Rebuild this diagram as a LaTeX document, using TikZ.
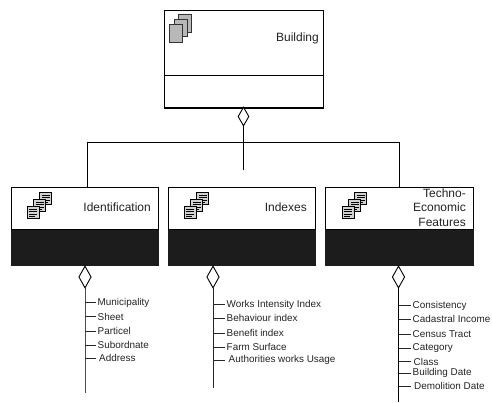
\documentclass[tikz,border=0pt]{standalone}
\usepackage{fontspec}
\setmainfont{Liberation Sans}
\usetikzlibrary{shapes.geometric}
\definecolor{boxblack}{RGB}{28,28,28}
\definecolor{txt}{RGB}{35,35,35}
\tikzset{
  x=1pt,y=-1pt,
  boxline/.style={draw=black,line width=0.9pt,fill=white},
  darkpart/.style={draw=boxblack,fill=boxblack,line width=0.5pt},
  wire/.style={draw=black,line width=0.7pt},
  tick/.style={draw=black!85,line width=0.7pt},
  dia/.style={diamond,draw=black,fill=white,line width=0.9pt,inner sep=0pt,minimum width=12.5pt,minimum height=22pt,aspect=0.55},
  item/.style={anchor=west,inner sep=0pt,font=\fontsize{9.9}{11}\selectfont,text=txt},
  title/.style={anchor=east,inner sep=0pt,font=\fontsize{12}{14}\selectfont,text=txt,align=right},
  sheet/.style={draw=black!80,fill=black!28,line width=0.6pt},
  doc/.style={draw=black,fill=black!18,line width=0.6pt},
  docline/.style={draw=black,line width=0.6pt}
}
\newcommand{\docicon}[2]{%
  \path[doc] (#1,#2) rectangle ++(12,12.5);
  \draw[docline] (#1+2,#2+3) -- ++(8,0) (#1+2,#2+5.5) -- ++(8,0) (#1+2,#2+8) -- ++(8,0) (#1+2,#2+10.5) -- ++(6,0);
}
\newcommand{\stackicon}[2]{%
  \docicon{#1+12.5}{#2}\docicon{#1+6.5}{#2+7}\docicon{#1}{#2+14}%
}
\begin{document}
\begin{tikzpicture}
\useasboundingbox (0,0) rectangle (492,403);
% connectors (tree)
\coordinate (tl) at (87,142);
\coordinate (tr) at (399.5,142);
\coordinate (tm) at (243.5,142);
\coordinate (idtop) at (87,187);
\coordinate (fetop) at (399.5,187);
\coordinate (mbot) at (243.5,170);
\draw[wire] (tl) -- (tr);
\draw[wire] (tl) -- (idtop);
\draw[wire] (tr) -- (fetop);
\draw[wire] (tm) -- (mbot);
\draw[wire,line width=1pt] (243.5,126) -- (tm);
% building
\node[boxline,minimum width=159.5pt,minimum height=97pt,inner sep=0pt,anchor=north west] (bld) at (163.5,10) {};
\coordinate (bl) at (163.5,75.5);
\coordinate (br) at (323,75.5);
\draw[line width=0.9pt] (bl) -- (br);
\draw[line width=1.4pt] (bld.south west) -- (bld.south east);
\path[sheet] (178,14.5) rectangle ++(13,17.5);
\path[sheet] (174,19) rectangle ++(13,17.5);
\path[sheet] (169.5,24.5) rectangle ++(13,17.5);
\node[title] (bldt) at (319,38) {Building};
\node[dia,minimum width=11pt,minimum height=19pt] (bd) at (243.5,116.5) {};
% three class boxes
\foreach \nm/\xa/\xb in {a/11/158.5,b/168/315.5,c/325/473.5}{
  \path[darkpart] (\xa,229) rectangle (\xb,265);
  \path[draw=black,line width=0.7pt,fill=white] (\xa,187) rectangle (\xb,229);
}
\stackicon{27}{192}
\stackicon{184}{192}
\stackicon{342}{192}
\node[title] (ida) at (151,207) {Identification};
\node[title] (idx) at (307,207) {Indexes};
\node[title,font=\fontsize{12}{14.7}\selectfont] (fe) at (466,207.5) {Techno-\\Economic\\Features};
% identification list
\coordinate (ae) at (85,393);
\draw[line width=0.9pt,draw=black!70] (85,288) -- (ae);
\node[dia] (ad) at (85,277) {};
\foreach \yy/\tt/\xx in {302.7/Municipality/97.5,316.5/Sheet/97.5,331/Particel/97.5,345/Subordnate/97.5,358/Address/99}{
  \node[item] (n\yy) at (\xx,\yy) {\tt};
  \draw[tick] (85,\yy) -- (95.5,\yy);
}
% indexes list
\coordinate (be) at (213.5,388);
\draw[line width=0.9pt,draw=black!85] (213.5,288) -- (be);
\node[dia] (bdd) at (213,277) {};
\foreach \yy/\tt/\xx in {304.5/Works Intensity Index/226.5,318/Behaviour index/226.5,333/Benefit index/226.5,347/Farm Surface/226.5,360/Authorities works Usage/228.5}{
  \node[item] (m\yy) at (\xx,\yy) {\tt};
  \draw[tick] (213.5,\yy) -- (224.5,\yy);
}
% features list
\coordinate (ce) at (398.5,402);
\draw[line width=0.9pt] (398.5,288) -- (ce);
\node[dia] (cd) at (398.5,277) {};
\foreach \yy/\tt/\xx in {305.5/Consistency/412.5,319/Cadastral Income/412.5,334.5/Census Tract/412.5,348/Category/412.5,361.5/Class/413.5,373/Building Date/412.5,386/Demolition Date/414}{
  \node[item] (k\yy) at (\xx,\yy) {\tt};
  \draw[tick] (398.5,\yy) -- (411,\yy);
}
\end{tikzpicture}
\end{document}
